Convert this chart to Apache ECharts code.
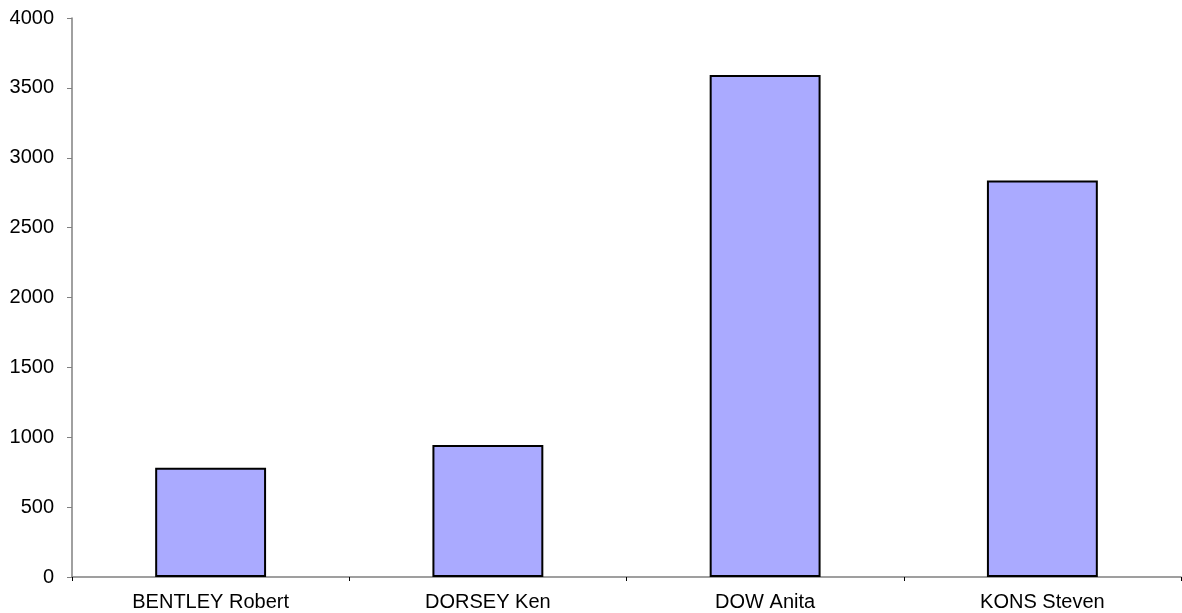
<!DOCTYPE html>
<html><head><meta charset="utf-8">
<script src="https://cdn.jsdelivr.net/npm/echarts@6/dist/echarts.min.js"></script>
<style>html,body{margin:0;padding:0;background:#fff}#c{width:1182px;height:613px}</style>
</head><body><div id="c"></div>
<script>
var categories = ["BENTLEY Robert", "DORSEY Ken", "DOW Anita", "KONS Steven"];
var values = [782, 945, 3592, 2837];
var yMin = 0, yMax = 4000, yStep = 500;

var chart = echarts.init(document.getElementById('c'));
chart.setOption({
  animation: false,
  grid: { left: 72, right: 1, top: 18, bottom: 36, containLabel: false },
  xAxis: {
    type: 'category', data: categories,
    axisLine: { lineStyle: { color: '#808080', width: 1.5 } },
    axisTick: { show: true, inside: false, length: 4, lineStyle: { color: '#000' } },
    axisLabel: { color: '#000', fontFamily: 'Liberation Sans', fontSize: 20, margin: 15 },
    splitLine: { show: false }
  },
  yAxis: {
    type: 'value', min: yMin, max: yMax, interval: yStep,
    axisLine: { show: true, lineStyle: { color: '#808080', width: 1.5 } },
    axisTick: { show: true, length: 5, lineStyle: { color: '#808080' } },
    axisLabel: { color: '#000', fontFamily: 'Liberation Sans', fontSize: 20, margin: 18,
      formatter: function (v) { return String(v); } },
    splitLine: { show: false }
  },
  series: [{
    type: 'bar', data: values, barWidth: '40%',
    itemStyle: { color: '#AAAAFF', borderColor: '#000', borderWidth: 2 }
  }]
});
</script></body></html>
